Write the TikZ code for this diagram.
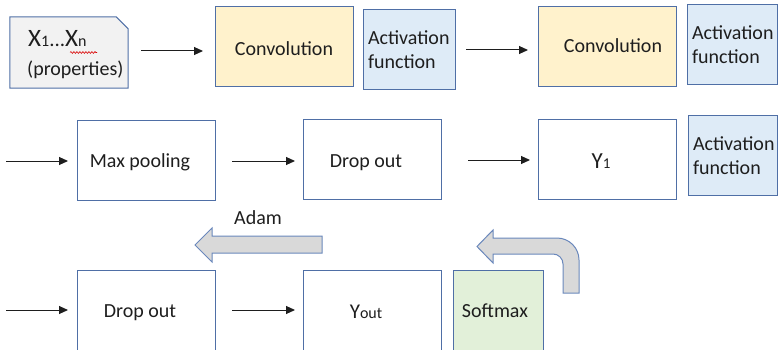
\documentclass[tikz,border=0pt]{standalone}
\usepackage{fontspec}
\setmainfont{Carlito}
\usetikzlibrary{arrows.meta,decorations.pathmorphing}

\definecolor{edge}{HTML}{4F6FA6}
\definecolor{ink}{HTML}{1E1E1E}
\definecolor{convfill}{HTML}{FFF2CC}
\definecolor{actfill}{HTML}{DEEBF7}
\definecolor{softfill}{HTML}{E2F0D9}
\definecolor{infill}{HTML}{F2F2F2}
\definecolor{bigarrow}{HTML}{D9D9D9}
\definecolor{bigedge}{HTML}{6A88BC}

\newcommand{\fs}[1]{\fontsize{#1}{#1}\selectfont}

\begin{document}
\begin{tikzpicture}[x=1pt,y=-1pt,
  every node/.style={text=ink, font=\fontsize{20}{24}\selectfont},
  box/.style={draw=edge, line width=1pt, inner sep=0pt, outer sep=0pt},
  % baseline sits #1/2 below the box centre
  base/.style={text height=#1, text depth=0pt},
  base/.default=14pt,
  nudge/.style={execute at begin node={\hspace*{#1}}},
  actbox/.style={box, fill=actfill, align=left, inner xsep=5pt,
    text width=#1-10pt, minimum height=80pt},
  conn/.style={draw=ink, line width=1pt, -{Triangle[length=9pt,width=8pt]}},
  fatarrow/.style={fill=bigarrow, draw=bigedge, line width=1pt, line join=miter}
]
\useasboundingbox (0,0) rectangle (778,350);
\clip (0,0) rectangle (778,350);

% ---- row 1 ----
\node[inner sep=0pt, minimum width=118pt, minimum height=71pt] (in) at (69,52.5) {};
\filldraw[fill=infill, draw=edge, line width=1pt]
  (in.north west) -- ([xshift=-12pt]in.north east) -- ([yshift=-12pt]in.north east)
  -- (in.south east) -- (in.south west) -- cycle;
\node[anchor=base west, inner sep=0pt] (xs) at (28,47)
  {\fs{25}X\fs{16}1\fs{21}...\fs{25}X\fs{16}n};
\node[anchor=base west, inner sep=0pt] (props) at (27,76) {(properties)};
\draw[red!85!black, line width=0.6pt,
  decorate, decoration={snake, amplitude=0.9pt, segment length=3pt}]
  (70,52.5) -- (97,52.5);

\node[box, base=18pt, fill=convfill, minimum width=138pt, minimum height=80pt] (conv1) at (284,47) {Convolution};
\node[actbox=92pt, yshift=-3pt] (act1) at (409,47) {Activation\\function};
\node[box, base=12pt, fill=convfill, minimum width=138pt, minimum height=80pt, nudge=12pt] (conv2) at (607,47) {Convolution};
\node[actbox=90.5pt, yshift=2pt] (act2) at (732.25,47) {Activation\\function};

% ---- row 2 ----
\node[box, base, minimum width=138pt, minimum height=80pt, nudge=-12pt] (pool) at (146,160) {Max pooling};
\node[box, base=16pt, minimum width=138pt, minimum height=80pt, nudge=-12pt] (drop1) at (372,159) {Drop out};
\node[box, base=18pt, minimum width=138pt, minimum height=80pt, nudge=-12pt] (y1) at (607,159)
  {\fs{23}Y\fs{15}1};
\node[actbox=89.5pt, yshift=1.5pt] (act3) at (732.75,157) {Activation\\function};

% ---- row 3 ----
\node[box, base=12pt, minimum width=138pt, minimum height=82pt, nudge=-12pt] (drop2) at (146,311) {Drop out};
\node[box, base, minimum width=138pt, minimum height=82pt, nudge=-12pt] (yout) at (372,311)
  {\fs{21}Y\fs{16}out};
\node[box, base=12pt, fill=softfill, minimum width=90pt, minimum height=82pt, nudge=-6pt] (soft) at (498,311) {Softmax};

% ---- connectors ----
\coordinate (a1s) at (141,51);  \coordinate (a1e) at (203,51);
\coordinate (a2s) at (466,50);  \coordinate (a2e) at (528,50);
\coordinate (a3s) at (6,161);   \coordinate (a3e) at (68,161);
\coordinate (a4s) at (232,161); \coordinate (a4e) at (295,161);
\coordinate (a5s) at (468,160); \coordinate (a5e) at (530,160);
\coordinate (a6s) at (6,310);   \coordinate (a6e) at (68,310);
\coordinate (a7s) at (232,310); \coordinate (a7e) at (295,310);
\foreach \k in {1,...,7} \draw[conn] (a\k s) -- (a\k e);

% ---- Adam block arrow ----
\filldraw[fatarrow] (322,236) -- (212,236) -- (212,228) -- (195,245)
  -- (212,262) -- (212,253) -- (322,253) -- cycle;
\node (adam) at (258,218) {Adam};

% ---- bent block arrow from softmax ----
\filldraw[fatarrow] (493,238) -- (557,238) arc[start angle=-90, end angle=0, radius=22]
  -- (579,293) -- (563,293) -- (563,264) arc[start angle=0, end angle=-90, radius=10]
  -- (493,254) -- (493,263) -- (477,246.5) -- (493,230) -- cycle;
\end{tikzpicture}
\end{document}
